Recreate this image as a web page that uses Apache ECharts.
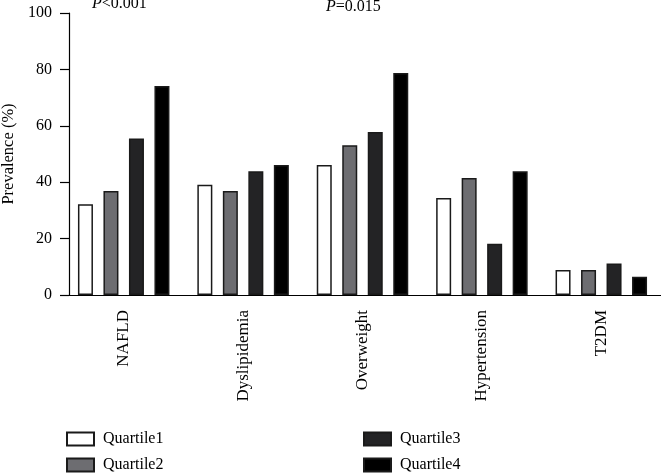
<!DOCTYPE html>
<html>
<head>
<meta charset="utf-8">
<script src="https://cdn.jsdelivr.net/npm/echarts@6/dist/echarts.min.js"></script>
<style>html,body{margin:0;padding:0;background:#fff}#c{width:661px;height:473px}</style>
</head>
<body>
<div id="c"></div>
<script>
const categories = ['NAFLD', 'Dyslipidemia', 'Overweight', 'Hypertension', 'T2DM'];
const seriesNames = ['Quartile1', 'Quartile2', 'Quartile3', 'Quartile4'];
const quartile1 = [32.2, 39.1, 46.1, 34.4, 8.9];
const quartile2 = [36.9, 36.9, 53.1, 41.5, 8.9];
const quartile3 = [55.5, 43.9, 57.8, 18.2, 11.2];
const quartile4 = [74.1, 46.1, 78.7, 43.9, 6.5];
const yTicks = [0, 20, 40, 60, 80, 100];
const pLabels = [['P', '<0.001'], ['P', '=0.015']];

const FONT = '"Liberation Serif", "DejaVu Serif", serif';
const fills = ['#ffffff', '#6d6d71', '#232325', '#000000'];
const values = [quartile1, quartile2, quartile3, quartile4];

const chart = echarts.init(document.getElementById('c'));
chart.setOption({
  animation: false,
  backgroundColor: '#fff',
  textStyle: { fontFamily: FONT, color: '#000' },
  grid: { left: 64, right: 0, top: 13, bottom: 178, containLabel: false, outerBoundsMode: 'none' },
  legend: [
    {
      data: seriesNames.slice(0, 2), orient: 'vertical', left: 66, top: 431, padding: 0,
      itemWidth: 27, itemHeight: 13, itemGap: 10, icon: 'rect',
      textStyle: { fontFamily: FONT, fontSize: 16, color: '#000', padding: [0, 0, 0, 4] }
    },
    {
      data: seriesNames.slice(2, 4), orient: 'vertical', left: 363, top: 431, padding: 0,
      itemWidth: 27, itemHeight: 13, itemGap: 10, icon: 'rect',
      textStyle: { fontFamily: FONT, fontSize: 16, color: '#000', padding: [0, 0, 0, 4] }
    }
  ],
  xAxis: {
    type: 'category', data: categories,
    axisLine: { lineStyle: { color: '#000', width: 1.2 } },
    axisTick: { alignWithLabel: true, length: 8, lineStyle: { color: '#000', width: 1.2 } },
    axisLabel: { rotate: 90, margin: 15, fontSize: 17, color: '#000', fontFamily: FONT }
  },
  yAxis: {
    type: 'value', min: yTicks[0], max: yTicks[yTicks.length - 1], interval: 20, offset: -5,
    name: 'Prevalence (%)', nameLocation: 'middle', nameGap: 52,
    nameTextStyle: { fontSize: 16.5, color: '#000', fontFamily: FONT },
    axisLine: { show: true, lineStyle: { color: '#000', width: 1.2 } },
    axisTick: { show: true, length: 9, lineStyle: { color: '#000', width: 1.2 } },
    axisLabel: { margin: 17, fontSize: 16, color: '#000', fontFamily: FONT },
    splitLine: { show: false }
  },
  graphic: [
    {
      type: 'text', left: 92, top: -4,
      style: { rich: { i: { fontStyle: 'italic', fontSize: 16, fontFamily: FONT, fill: '#000' }, n: { fontSize: 16, fontFamily: FONT, fill: '#000' } },
        text: '{i|' + pLabels[0][0] + '}{n|' + pLabels[0][1] + '}' }
    },
    {
      type: 'text', left: 326, top: -1,
      style: { rich: { i: { fontStyle: 'italic', fontSize: 16, fontFamily: FONT, fill: '#000' }, n: { fontSize: 16, fontFamily: FONT, fill: '#000' } },
        text: '{i|' + pLabels[1][0] + '}{n|' + pLabels[1][1] + '}' }
    }
  ],
  series: seriesNames.map((n, i) => ({
    name: n, type: 'bar', data: values[i], barWidth: 15, barGap: '70%',
    itemStyle: { color: fills[i], borderColor: '#1a1a1a', borderWidth: 1.5 }
  }))
});
</script>
</body>
</html>
